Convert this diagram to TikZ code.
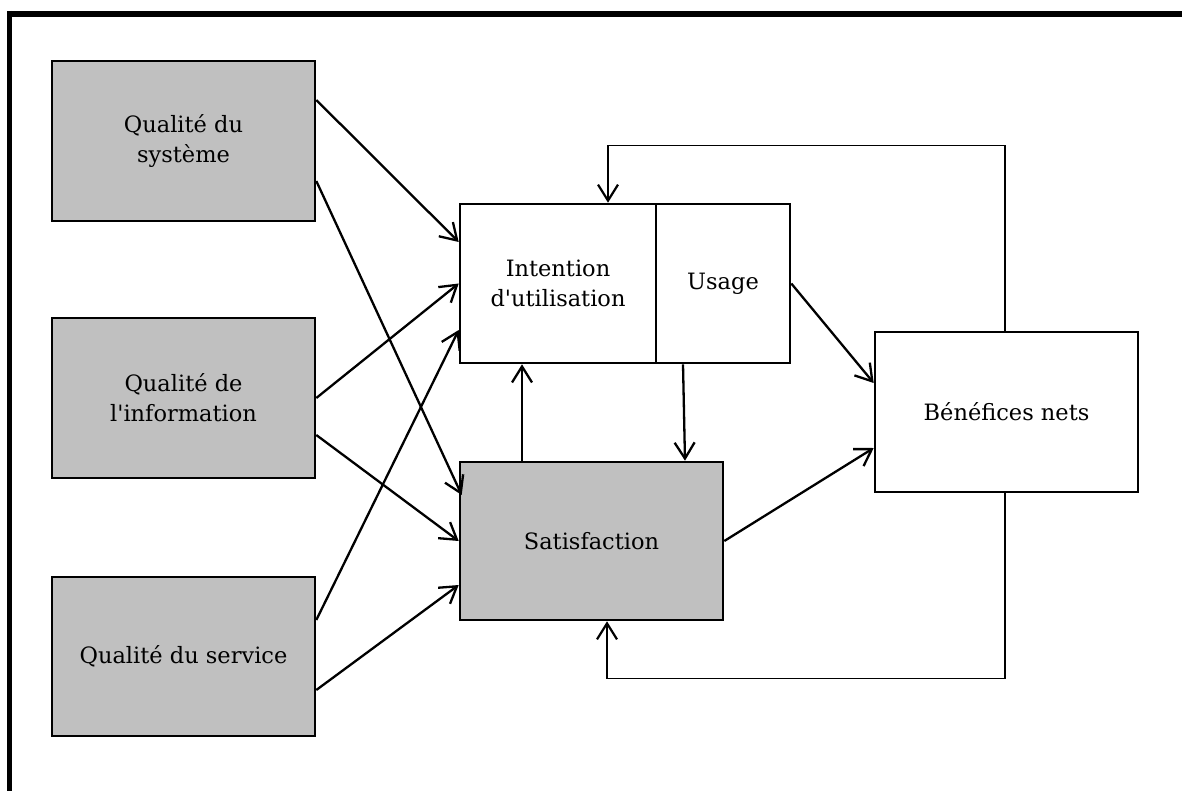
\documentclass[tikz,border=0pt]{standalone}
\usepackage{fontspec}
\setmainfont{DejaVu Serif}
\usetikzlibrary{arrows.meta}
\begin{document}
\begin{tikzpicture}[x=1pt,y=-1pt,
  box/.style={draw=black,line width=2.6pt,inner sep=0pt,align=center,
    font=\fontsize{22.5}{30}\selectfont,text=black},
  graybox/.style={box,fill=boxgray},
  link/.style={line width=2.3pt,-{Straight Barb[length=16pt,width=20pt,line width=2.3pt]}},
  loop/.style={line width=1.2pt,-{Straight Barb[length=16pt,width=20pt,line width=2.2pt]}}]
\definecolor{boxgray}{RGB}{192,192,192}
\useasboundingbox (0,0) rectangle (1182,791);
% frame
\draw[line width=6pt] (7,14) -- (1182,14);
\draw[line width=5pt] (9.5,11) -- (9.5,791);
% quality boxes
\node[graybox,minimum width=263pt,minimum height=160pt] (q1) at (183.5,141) {Qualité du\\système};
\node[graybox,minimum width=263pt,minimum height=160pt] (q2) at (183.5,398) {Qualité de\\l\textquotesingle information};
\node[graybox,minimum width=263pt,minimum height=159pt] (q3) at (183.5,656.5) {Qualité du service};
% use, satisfaction, benefits
\node[box,fill=white,minimum width=196pt,minimum height=159pt] (int) at (558,283.5) {Intention\\d\textquotesingle utilisation};
\node[box,fill=white,minimum width=134pt,minimum height=159pt] (use) at (723,283.5) {Usage};
\node[graybox,minimum width=263pt,minimum height=158pt] (sat) at (591.5,541) {Satisfaction};
\node[box,fill=white,minimum width=263pt,minimum height=160pt] (ben) at (1006.5,412) {Bénéfices nets};
% links from the quality boxes
\draw[link] ([yshift=41pt]q1.east) -- ([yshift=41.5pt]int.west);
\draw[link] ([yshift=-40pt]q1.east) -- ([yshift=46pt,xshift=3pt]sat.west);
\draw[link] (q2.east) -- (int.west);
\draw[link] ([yshift=-37pt]q2.east) -- (sat.west);
\draw[link] ([yshift=36.5pt]q3.east) -- ([yshift=-46.5pt]int.west);
\draw[link] ([yshift=-33.5pt]q3.east) -- ([yshift=-44pt]sat.west);
% links between use and satisfaction
\coordinate (s7) at ([xshift=-69.5pt]sat.north);
\draw[link] (s7) -- (s7 |- int.south);
\draw[link] ([xshift=-40pt]use.south) -- ([xshift=93.5pt]sat.north);
% links towards the benefits
\draw[link] (use.east) -- ([yshift=29pt]ben.west);
\draw[link] (sat.east) -- ([yshift=-36pt]ben.west);
% feedback loops
\coordinate (ft) at ([xshift=50pt,yshift=57pt]int.north);
\draw[loop] ([xshift=-1.5pt]ben.north) |- (ft) -- ([xshift=50pt]int.north);
\coordinate (fb) at ([xshift=15.5pt,yshift=-57pt]sat.south);
\draw[loop] ([xshift=-1.5pt]ben.south) |- (fb) -- ([xshift=15.5pt]sat.south);
\end{tikzpicture}
\end{document}
